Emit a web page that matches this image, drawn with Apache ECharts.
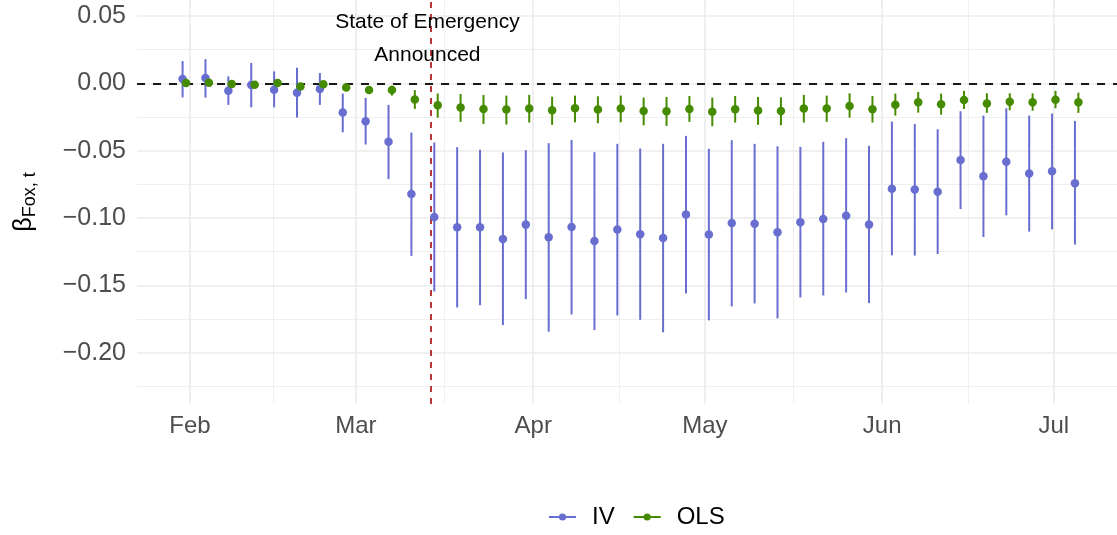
<!DOCTYPE html>
<html>
<head>
<meta charset="utf-8">
<script src="https://cdn.jsdelivr.net/npm/echarts@6/dist/echarts.min.js"></script>
<style>
html, body { margin: 0; padding: 0; background: #fff; }
#chart { width: 1117px; height: 535px; }
</style>
</head>
<body>
<div id="chart"></div>
<script>
// estimate dates (every 4 days)
const dates = ['2020-01-31', '2020-02-04', '2020-02-08', '2020-02-12', '2020-02-16', '2020-02-20', '2020-02-24', '2020-02-28',
	'2020-03-03', '2020-03-07', '2020-03-11', '2020-03-15', '2020-03-19', '2020-03-23', '2020-03-27', '2020-03-31',
	'2020-04-04', '2020-04-08', '2020-04-12', '2020-04-16', '2020-04-20', '2020-04-24', '2020-04-28',
	'2020-05-02', '2020-05-06', '2020-05-10', '2020-05-14', '2020-05-18', '2020-05-22', '2020-05-26', '2020-05-30',
	'2020-06-03', '2020-06-07', '2020-06-11', '2020-06-15', '2020-06-19', '2020-06-23', '2020-06-27',
	'2020-07-01', '2020-07-05'];

const ivEst = [0.0033, 0.0040, -0.0054, -0.0012, -0.0047, -0.0069, -0.0042, -0.0217, -0.0281, -0.0434,
	-0.0822, -0.0993, -0.1069, -0.1069, -0.1156, -0.1049, -0.1143, -0.1067, -0.1170, -0.1086,
	-0.1121, -0.1148, -0.0973, -0.1123, -0.1037, -0.1042, -0.1106, -0.1032, -0.1007, -0.0983,
	-0.1049, -0.0783, -0.0788, -0.0805, -0.0570, -0.0689, -0.0582, -0.0669, -0.0652, -0.0741];
const ivLow = [-0.0104, -0.0106, -0.0160, -0.0178, -0.0178, -0.0254, -0.0160, -0.0363, -0.0454, -0.0711,
	-0.1281, -0.1545, -0.1664, -0.1647, -0.1795, -0.1602, -0.1844, -0.1716, -0.1832, -0.1723,
	-0.1756, -0.1849, -0.1560, -0.1760, -0.1656, -0.1634, -0.1745, -0.1590, -0.1575, -0.1553,
	-0.1632, -0.1277, -0.1279, -0.1267, -0.0933, -0.1141, -0.0980, -0.1101, -0.1084, -0.1197];
const ivHigh = [0.0166, 0.0180, 0.0052, 0.0151, 0.0089, 0.0116, 0.0077, -0.0076, -0.0108, -0.0160,
	-0.0365, -0.0439, -0.0474, -0.0493, -0.0513, -0.0496, -0.0444, -0.0420, -0.0511, -0.0449,
	-0.0484, -0.0449, -0.0390, -0.0486, -0.0422, -0.0449, -0.0467, -0.0472, -0.0434, -0.0407,
	-0.0464, -0.0284, -0.0301, -0.0341, -0.0207, -0.0239, -0.0185, -0.0239, -0.0224, -0.0279];

const olsEst = [0.0003, 0.0005, -0.0005, -0.0010, 0.0003, -0.0024, -0.0007, -0.0030, -0.0049, -0.0050,
	-0.0120, -0.0163, -0.0180, -0.0190, -0.0195, -0.0187, -0.0200, -0.0185, -0.0195, -0.0187,
	-0.0205, -0.0207, -0.0190, -0.0210, -0.0193, -0.0202, -0.0205, -0.0187, -0.0187, -0.0168,
	-0.0193, -0.0158, -0.0141, -0.0156, -0.0123, -0.0150, -0.0136, -0.0141, -0.0121, -0.0141];
const olsLow = [-0.0020, -0.0018, -0.0027, -0.0032, -0.0019, -0.0047, -0.0030, -0.0055, -0.0078, -0.0091,
	-0.0190, -0.0255, -0.0286, -0.0301, -0.0306, -0.0291, -0.0308, -0.0289, -0.0296, -0.0289,
	-0.0311, -0.0316, -0.0286, -0.0318, -0.0291, -0.0308, -0.0311, -0.0291, -0.0286, -0.0254,
	-0.0291, -0.0239, -0.0217, -0.0232, -0.0190, -0.0219, -0.0200, -0.0203, -0.0185, -0.0219];
const olsHigh = [0.0026, 0.0028, 0.0017, 0.0012, 0.0025, -0.0001, 0.0016, -0.0005, -0.0020, -0.0017,
	-0.0050, -0.0075, -0.0079, -0.0086, -0.0091, -0.0086, -0.0099, -0.0091, -0.0096, -0.0091,
	-0.0106, -0.0101, -0.0094, -0.0106, -0.0094, -0.0101, -0.0104, -0.0086, -0.0091, -0.0074,
	-0.0094, -0.0076, -0.0064, -0.0076, -0.0056, -0.0074, -0.0074, -0.0074, -0.0056, -0.0069];

const monthTicks = ['2020-02-01', '2020-03-01', '2020-04-01', '2020-05-01', '2020-06-01', '2020-07-01'];
const monthLabels = ['Feb', 'Mar', 'Apr', 'May', 'Jun', 'Jul'];
const yTicks = [-0.2, -0.15, -0.1, -0.05, 0, 0.05];
const yMinor = [-0.225, -0.175, -0.125, -0.075, -0.025, 0.025];
const emergencyDate = '2020-03-14';

const FONT = 'Liberation Sans, Arial, sans-serif';
const IV_COLOR = '#686ed0';
const OLS_COLOR = '#458b00';
const DAY = 86400000;
const DODGE = 0.3;

// x axis in days since Feb 1
const ORIGIN = Date.UTC(2020, 1, 1);
const day = s => {
	const p = s.split('-').map(Number);
	return Math.round((Date.UTC(p[0], p[1] - 1, p[2]) - ORIGIN) / DAY);
};
const majorX = monthTicks.map(day);
const minorX = majorX.slice(1).map((v, i) => (v + majorX[i]) / 2);
const X_MIN = -9.27;
const X_MAX = 162.05;
const Y_MIN = -0.2381;
const Y_MAX = 0.0619;

function errorBars (name, lo, hi, color, shift, z) {
	return {
		type: 'custom',
		name: name + ' CI',
		z: z,
		silent: true,
		data: dates.map((d, i) => [day(d) + shift, lo[i], hi[i]]),
		encode: { x: 0, y: [1, 2] },
		renderItem: function (params, api) {
			const a = api.coord([api.value(0), api.value(1)]);
			const b = api.coord([api.value(0), api.value(2)]);
			return {
				type: 'line',
				shape: { x1: a[0], y1: a[1], x2: b[0], y2: b[1] },
				style: { stroke: color, lineWidth: 2 }
			};
		}
	};
}

function points (name, est, color, shift, z) {
	return {
		type: 'line',
		name: name,
		z: z,
		silent: true,
		data: dates.map((d, i) => [day(d) + shift, est[i]]),
		symbol: 'circle',
		symbolSize: 8.5,
		showAllSymbol: true,
		lineStyle: { width: 0, color: color },
		itemStyle: { color: color },
		emphasis: { disabled: true }
	};
}

const ivBars = errorBars('IV', ivLow, ivHigh, IV_COLOR, -DODGE, 2);
// reference lines + annotation
ivBars.markLine = {
	silent: true,
	z: 1,
	symbol: ['none', 'none'],
	label: { show: false },
	data: [
		{ yAxis: 0, lineStyle: { color: '#000', type: [8, 8], width: 1.8 } },
		{ xAxis: day(emergencyDate), lineStyle: { color: '#b22222', type: [6, 6], width: 1.8 } }
	]
};
ivBars.markPoint = {
	silent: true,
	symbol: 'circle',
	symbolSize: 0,
	data: [{
		coord: [day(emergencyDate) - 0.5, 0.0335],
		label: {
			show: true,
			position: 'inside',
			formatter: 'State of Emergency\nAnnounced',
			color: '#000',
			fontSize: 21,
			lineHeight: 33,
			fontFamily: FONT
		}
	}]
};

const chart = echarts.init(document.getElementById('chart'));
const option = {
	animation: false,
	backgroundColor: '#fff',
	textStyle: { fontFamily: FONT },
	grid: { left: 137, right: 0, top: 0, bottom: 131 },
	legend: {
		data: ['IV', 'OLS'],
		left: 543,
		top: 500,
		itemWidth: 27,
		itemHeight: 9,
		itemGap: 18,
		selectedMode: false,
		lineStyle: { width: 2 },
		textStyle: { fontSize: 24, color: '#000', fontFamily: FONT, padding: [0, 0, 0, 11] }
	},
	xAxis: [{
		type: 'value',
		min: X_MIN,
		max: X_MAX,
		axisLine: { show: false },
		axisTick: { show: false, customValues: majorX },
		axisLabel: {
			customValues: majorX,
			formatter: v => monthLabels[majorX.indexOf(Math.round(v))],
			color: '#4d4d4d',
			fontSize: 24,
			margin: 10,
			fontFamily: FONT
		},
		splitLine: { show: true, lineStyle: { color: '#ebebeb', width: 1.6 } }
	}, {
		type: 'value',
		min: X_MIN,
		max: X_MAX,
		axisLine: { show: false },
		axisTick: { show: false, customValues: minorX },
		axisLabel: { show: false },
		splitLine: { show: true, lineStyle: { color: '#ebebeb', width: 0.8 } }
	}],
	yAxis: [{
		type: 'value',
		min: Y_MIN,
		max: Y_MAX,
		axisLine: { show: false },
		axisTick: { show: false, customValues: yTicks },
		axisLabel: {
			customValues: yTicks,
			formatter: v => (v < -1e-9 ? '\u2212' : '') + Math.abs(v).toFixed(2),
			color: '#4d4d4d',
			fontSize: 25,
			margin: 11,
			fontFamily: FONT
		},
		splitLine: { lineStyle: { color: '#ebebeb', width: 1.6 } },
		name: '{b|\u03b2}{s|Fox, t}',
		nameLocation: 'middle',
		nameRotate: 90,
		nameGap: 98,
		nameTextStyle: {
			rich: {
				b: { fontSize: 25, color: '#000', fontFamily: FONT, lineHeight: 30 },
				s: { fontSize: 18, color: '#000', fontFamily: FONT, lineHeight: 18, verticalAlign: 'bottom' }
			}
		}
	}, {
		type: 'value',
		min: Y_MIN,
		max: Y_MAX,
		position: 'left',
		axisLine: { show: false },
		axisTick: { show: false, customValues: yMinor },
		axisLabel: { show: false },
		splitLine: { lineStyle: { color: '#ebebeb', width: 0.8 } }
	}],
	series: [
		ivBars,
		points('IV', ivEst, IV_COLOR, -DODGE, 3),
		errorBars('OLS', olsLow, olsHigh, OLS_COLOR, DODGE, 4),
		points('OLS', olsEst, OLS_COLOR, DODGE, 5)
	]
};
chart.setOption(option);
</script>
</body>
</html>
